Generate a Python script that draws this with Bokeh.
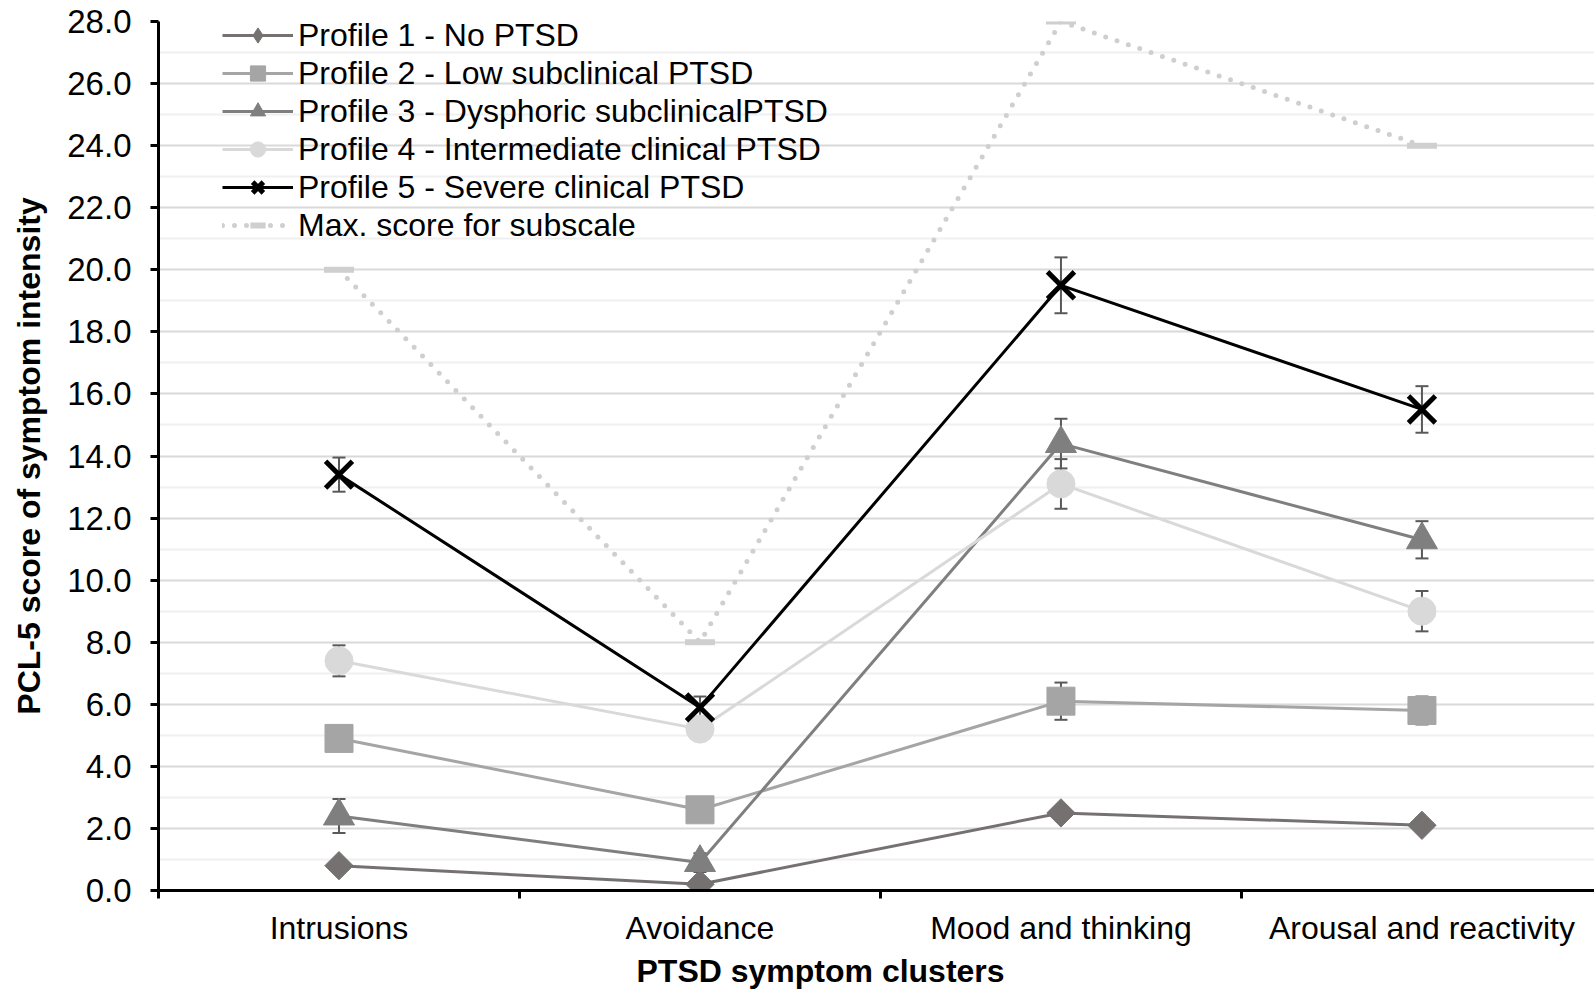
import math
from bokeh.plotting import figure
from bokeh.models import (Range1d, FixedTicker, ColumnDataSource, Whisker, TeeHead,
                          Legend, LegendItem, PrintfTickFormatter, Title)
from bokeh.embed import file_html
from bokeh.resources import INLINE

categories = ["Intrusions", "Avoidance", "Mood and thinking", "Arousal and reactivity"]
labels = ["Profile 1 - No PTSD", "Profile 2 - Low subclinical PTSD",
          "Profile 3 - Dysphoric subclinicalPTSD", "Profile 4 - Intermediate clinical PTSD",
          "Profile 5 - Severe clinical PTSD"]
max_label = "Max. score for subscale"
x_title = "PTSD symptom clusters"
y_title = "PCL-5 score of symptom intensity"

p1 = [0.8, 0.2, 2.5, 2.1]
p2 = [4.9, 2.6, 6.1, 5.8]
p3 = [2.4, 0.9, 14.4, 11.3]
p4 = [7.4, 5.2, 13.1, 9.0]
p5 = [13.4, 5.9, 19.5, 15.5]
max_score = [20, 8, 28, 24]

p1_err = [0.1, 0.1, 0.15, 0.1]
p2_err = [0.35, 0.3, 0.6, 0.45]
p3_err = [0.55, 0.3, 0.8, 0.6]
p4_err = [0.5, 0.35, 0.8, 0.65]
p5_err = [0.55, 0.35, 0.9, 0.75]

y_ticks = list(range(0, 29, 2))
y_minor = list(range(1, 28, 2))

FONT = "Liberation Sans"
FS = "32px"
x = list(range(len(categories)))

p = figure(width=1594, height=991, x_range=Range1d(-0.5, 3.478), y_range=Range1d(0, 28),
           output_backend="svg", toolbar_location=None,
           min_border_left=158, min_border_right=0, min_border_top=21, min_border_bottom=101)
p.outline_line_color = None
p.background_fill_color = "white"
p.border_fill_color = "white"

# grids
p.xgrid.visible = False
p.ygrid.grid_line_color = "#d9d9d9"
p.ygrid.grid_line_width = 2
p.ygrid.minor_grid_line_color = "#f0f0f0"
p.ygrid.minor_grid_line_width = 2

# y axis
p.yaxis.ticker = FixedTicker(ticks=y_ticks, minor_ticks=y_minor)
p.yaxis.formatter = PrintfTickFormatter(format="%.1f")
p.yaxis.axis_line_width = 3
p.yaxis.axis_line_color = "black"
p.yaxis.major_tick_line_width = 3
p.yaxis.major_tick_line_color = "black"
p.yaxis.major_tick_out = 8
p.yaxis.major_tick_in = 0
p.yaxis.minor_tick_line_color = None
p.yaxis.major_label_standoff = 19
p.yaxis.major_label_text_font = FONT
p.yaxis.major_label_text_font_size = "33px"
p.yaxis.major_label_text_color = "black"
p.yaxis.axis_label = y_title
p.yaxis.axis_label_text_font = FONT
p.yaxis.axis_label_text_font_size = FS
p.yaxis.axis_label_text_font_style = "bold"
p.yaxis.axis_label_text_color = "black"
p.yaxis.axis_label_standoff = 17

# x axis
p.xaxis.ticker = FixedTicker(ticks=x, minor_ticks=[i - 0.5 for i in x])
p.xaxis.major_label_overrides = {i: c for i, c in zip(x, categories)}
p.xaxis.axis_line_width = 3
p.xaxis.axis_line_color = "black"
p.xaxis.major_tick_line_color = None
p.xaxis.major_tick_out = 0
p.xaxis.major_tick_in = 0
p.xaxis.minor_tick_line_color = "black"
p.xaxis.minor_tick_line_width = 3
p.xaxis.minor_tick_out = 8
p.xaxis.minor_tick_in = 0
p.xaxis.major_label_standoff = 11
p.xaxis.major_label_text_font = FONT
p.xaxis.major_label_text_font_size = FS
p.xaxis.major_label_text_color = "black"

xt = Title(text=x_title, align="left", offset=478, standoff=5,
           text_font=FONT, text_font_size=FS, text_font_style="bold", text_color="black")
p.add_layout(xt, "below")

# error bars
series = [p1, p2, p3, p4, p5]
errs = [p1_err, p2_err, p3_err, p4_err, p5_err]
ex, eu, el = [], [], []
for vals, er in zip(series, errs):
    for xi, v, e in zip(x, vals, er):
        ex.append(xi)
        eu.append(v + e)
        el.append(v - e)
esrc = ColumnDataSource(dict(x=ex, upper=eu, lower=el))
ecol = "#595959"
wh = Whisker(source=esrc, base="x", upper="upper", lower="lower", dimension="height",
             line_color=ecol, line_width=2, level="underlay",
             upper_head=TeeHead(size=13, line_color=ecol, line_width=2),
             lower_head=TeeHead(size=13, line_color=ecol, line_width=2))
p.add_layout(wh)

items = []
# max score line
ml = p.line(x, max_score, line_color="#cfcfcf", line_width=5, line_dash="0 12", line_cap="round")
ms = p.scatter(x, max_score, marker="dash", size=30, line_color="#cfcfcf", line_width=6)

styles = [
    dict(color="#767171", marker="square", size=20, angle=math.pi / 4, legend_marker="diamond"),
    dict(color="#a5a5a5", marker="square", size=28, angle=0, legend_marker=None),
    dict(color="#7f7f7f", marker="triangle", size=31, angle=0, legend_marker=None),
    dict(color="#d9d9d9", marker="circle", size=28, angle=0, legend_marker=None),
    dict(color="black", marker="x", size=38, angle=0, legend_marker=None),
]
for vals, st, lab in zip(series, styles, labels):
    r1 = p.line(x, vals, line_color=st["color"], line_width=3)
    if st["marker"] == "x":
        r2 = p.scatter(x, vals, marker="x", size=st["size"], line_color=st["color"], line_width=5)
    else:
        r2 = p.scatter(x, vals, marker=st["marker"], size=st["size"], angle=st["angle"],
                       fill_color=st["color"], line_color=st["color"], line_width=1)
    rends = [r1, r2]
    if st["legend_marker"]:
        # legend-only marker (zero size in the plot)
        r3 = p.scatter(x, vals, marker=st["legend_marker"], size=0,
                       fill_color=st["color"], line_color=st["color"], line_width=1)
        rends = [r1, r3]
    items.append(LegendItem(label=lab, renderers=rends))
items.append(LegendItem(label=max_label, renderers=[ml, ms]))

legend = Legend(items=items, location=(64, 646), padding=0, spacing=0, margin=0,
                glyph_width=71, glyph_height=38, label_height=38, label_standoff=5,
                label_text_font=FONT, label_text_font_size=FS, label_text_color="black",
                background_fill_alpha=0, border_line_alpha=0)
p.add_layout(legend)

open("out.html", "w").write(file_html(p, INLINE))
